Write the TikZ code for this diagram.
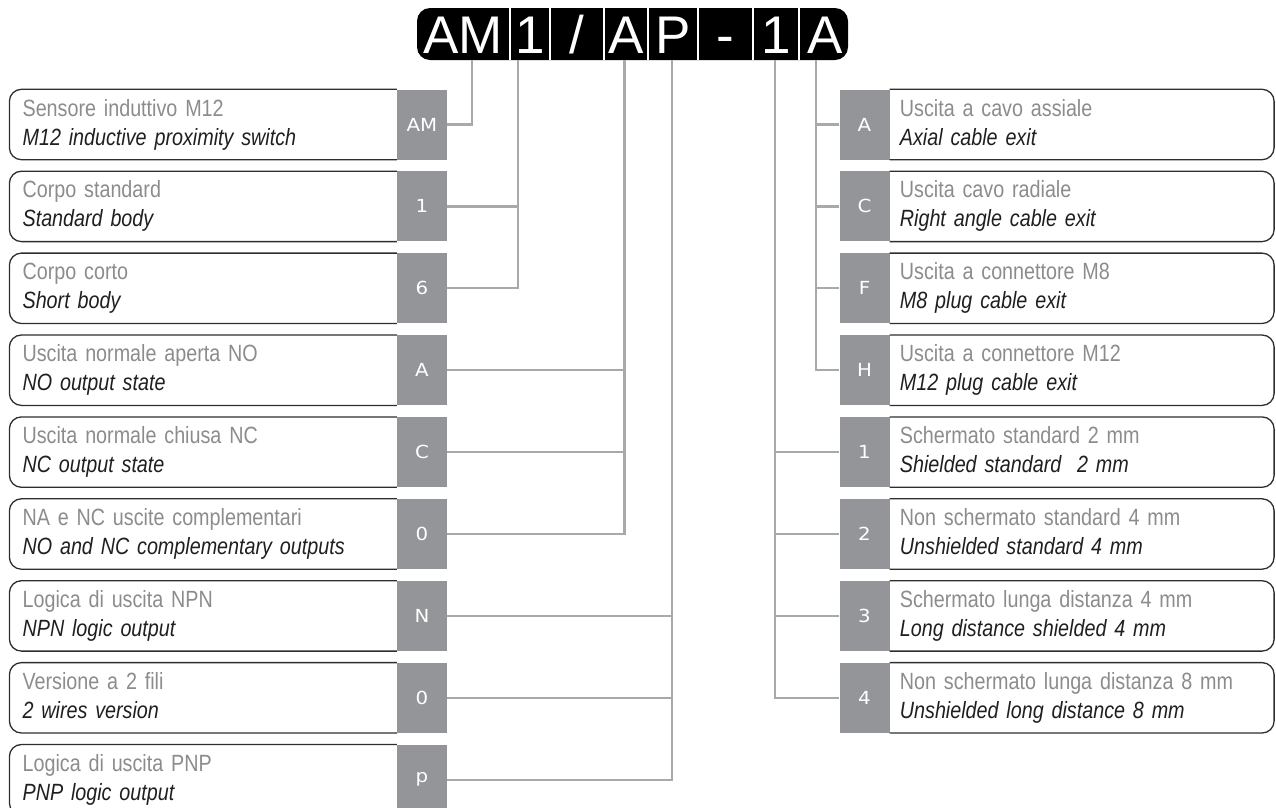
\documentclass[tikz,border=0pt]{standalone}
\usepackage{fontspec}
\usetikzlibrary{positioning}

\newfontfamily\headfont{Liberation Sans}
\newfontfamily\descfont[FakeStretch=0.84]{Liberation Sans}
\newfontfamily\codefont[FakeStretch=1.1]{DejaVu Sans}

\definecolor{codegray}{HTML}{939598}
\definecolor{linkgray}{HTML}{A7A9AC}
\definecolor{itagray}{HTML}{8C8C8C}
\definecolor{framedark}{HTML}{2E2E2E}

\newcommand{\optlabel}[2]{\rule{0pt}{18pt}{\color{itagray}#1}\\{\itshape\color{black!88}#2}\rule[-6pt]{0pt}{6pt}}

\begin{document}
\begin{tikzpicture}[x=1pt, y=-1pt,
    hcell/.style={text=white, font=\headfont\fontsize{53}{53}\selectfont,
      minimum height=52, inner sep=0, text height=38, text depth=0},
    code/.style={fill=codegray, text=white, font=\codefont\fontsize{18}{18}\selectfont,
      minimum width=50, minimum height=70, inner sep=0},
    ldesc/.style={minimum height=70, text width=361, inner xsep=13, inner ysep=0,
      align=left, font=\descfont\fontsize{23.5}{29}\selectfont},
    rdesc/.style={minimum height=70, text width=364, inner xsep=10, inner ysep=0,
      align=left, font=\descfont\fontsize{23.5}{29}\selectfont},
    frame/.style={draw=framedark, line width=1.3, rounded corners=12},
    link/.style={draw=linkgray, line width=2.2}]
  \useasboundingbox (0,0) rectangle (1276,807);
  \clip (0,0) rectangle (1276,807);

  % code header
  \fill[black, rounded corners=13] (417,8) rectangle (848,60);
  \node[hcell, minimum width=92, anchor=west] (hAM) at (417,34) {AM};
  \node[hcell, minimum width=37, right=2 of hAM] (hBody) {1};
  \node[hcell, minimum width=52, right=2 of hBody] (hSlash) {/};
  \node[hcell, minimum width=41, right=2 of hSlash] (hOut) {A};
  \node[hcell, minimum width=48, right=2 of hOut] (hLogic) {P};
  \node[hcell, minimum width=53, right=2 of hLogic] (hDash) {-};
  \node[hcell, minimum width=43, right=2 of hDash] (hRange) {1};
  \node[hcell, minimum width=51, right=2 of hRange] (hExit) {A};
  \foreach \n in {hAM,hBody,hSlash,hOut,hLogic,hDash,hRange}
    \draw[white, line width=2] ([xshift=1]\n.north east) -- ([xshift=1]\n.south east);

  % left options
  \foreach \code/\ita/\eng [count=\i from 0] in {
      AM/Sensore induttivo M12/M12 inductive proximity switch,
      1/Corpo standard/Standard body,
      6/Corpo corto/Short body,
      A/Uscita normale aperta NO/NO output state,
      C/Uscita normale chiusa NC/NC output state,
      0/NA e NC uscite complementari/NO and NC complementary outputs,
      N/Logica di uscita NPN/NPN logic output,
      0/Versione a 2 fili/2 wires version,
      p/Logica di uscita PNP/PNP logic output} {
    \node[code] (L\i) at (422,{124.5+81.9*\i}) {\code};
    \node[ldesc, left=0pt of L\i] (LD\i) {\optlabel{\ita}{\eng}};
    \draw[frame] (L\i.north west) -- (LD\i.west |- L\i.north)
      -- (LD\i.west |- L\i.south) -- (L\i.south west);
  }

  % right options
  \foreach \code/\ita/\eng [count=\i from 0] in {
      A/Uscita a cavo assiale/Axial cable exit,
      C/Uscita cavo radiale/Right angle cable exit,
      F/Uscita a connettore M8/M8 plug cable exit,
      H/Uscita a connettore M12/M12 plug cable exit,
      1/Schermato standard 2 mm/Shielded standard~ 2 mm,
      2/Non schermato standard 4 mm/Unshielded standard 4 mm,
      3/Schermato lunga distanza 4 mm/Long distance shielded 4 mm,
      4/Non schermato lunga distanza 8 mm/Unshielded long distance 8 mm} {
    \node[code] (R\i) at (864.5,{124.5+81.9*\i}) {\code};
    \node[rdesc, right=0pt of R\i] (RD\i) {\optlabel{\ita}{\eng}};
    \draw[frame] (R\i.north east) -- (RD\i.east |- R\i.north)
      -- (RD\i.east |- R\i.south) -- (R\i.south east);
  }

  % taps under the header
  \coordinate (kAM) at ([xshift=9]hAM.south);
  \coordinate (kBody) at ([xshift=-12.5]hBody.south);
  \coordinate (kOut) at ([xshift=-1.5]hOut.south);
  \coordinate (kLogic) at ([xshift=-1]hLogic.south);
  \coordinate (kRange) at ([xshift=-1.5]hRange.south);
  \coordinate (kExit) at ([xshift=-9.5]hExit.south);

  \draw[link] (kAM) |- (L0.east);
  \draw[link] (kBody) |- (L2.east);
  \draw[link] (L1.east) -- (L1.east -| kBody);
  \draw[link] (kOut) |- (L5.east);
  \foreach \i in {3,4} \draw[link] (L\i.east) -- (L\i.east -| kOut);
  \draw[link] (kLogic) |- (L8.east);
  \foreach \i in {6,7} \draw[link] (L\i.east) -- (L\i.east -| kLogic);
  \draw[link] (kExit) |- (R3.west);
  \foreach \i in {0,1,2} \draw[link] (R\i.west) -- (R\i.west -| kExit);
  \draw[link] (kRange) |- (R7.west);
  \foreach \i in {4,5,6} \draw[link] (R\i.west) -- (R\i.west -| kRange);
\end{tikzpicture}
\end{document}
